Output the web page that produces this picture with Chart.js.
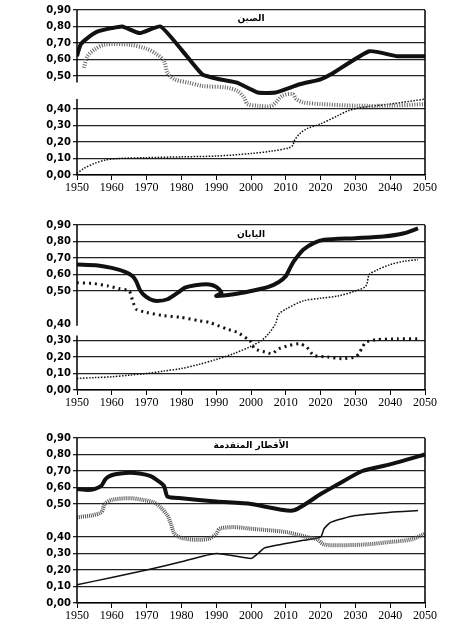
<!DOCTYPE html>
<html>
<head>
<meta charset="utf-8">
<script src="https://cdn.jsdelivr.net/npm/chart.js@4"></script>
<style>
  body { margin: 0; background: #fff; }
  .panel { position: absolute; left: 0; }
</style>
</head>
<body>
<canvas id="china" class="panel" width="457" height="200" style="top:0px"></canvas>
<canvas id="japan" class="panel" width="457" height="200" style="top:215px"></canvas>
<canvas id="developed" class="panel" width="457" height="200" style="top:428px"></canvas>
<script>
const chinaTotalYears = [1950, 1951, 1953, 1956, 1960, 1963, 1968, 1974, 1980, 1986, 1991, 1996, 2002, 2007, 2014, 2020, 2023, 2034, 2042, 2050];
const chinaTotal      = [0.62, 0.69, 0.73, 0.77, 0.79, 0.80, 0.76, 0.80, 0.66, 0.51, 0.49, 0.48, 0.45, 0.45, 0.475, 0.49, 0.51, 0.65, 0.62, 0.62];
const chinaYoungYears = [1952, 1953, 1955, 1958, 1965, 1970, 1973, 1975, 1976, 1978, 1982, 1986, 1993, 1996, 1998, 1999, 2002, 2006, 2009, 2012, 2013, 2015, 2020, 2030, 2040, 2050];
const chinaYoung      = [0.55, 0.62, 0.66, 0.69, 0.69, 0.665, 0.63, 0.59, 0.52, 0.49, 0.48, 0.47, 0.465, 0.455, 0.435, 0.415, 0.41, 0.41, 0.44, 0.445, 0.43, 0.42, 0.415, 0.41, 0.41, 0.415];
const chinaOldYears   = [1950, 1952, 1955, 1958, 1962, 1970, 1980, 1990, 2000, 2006, 2011, 2012, 2012.5, 2014, 2016, 2020, 2025, 2028, 2032, 2040, 2050];
const chinaOld        = [0.01, 0.04, 0.07, 0.09, 0.10, 0.105, 0.11, 0.115, 0.13, 0.145, 0.165, 0.18, 0.21, 0.25, 0.28, 0.31, 0.36, 0.39, 0.405, 0.415, 0.43];

const japanTotalYears = [1950, 1956, 1960, 1964, 1966, 1967, 1968, 1969, 1971, 1973, 1976, 1979, 1981, 1984, 1988, 1990, 1991.5, 1990, 1995, 2000, 2005, 2008, 2010, 2011, 2012, 2013, 2015, 2018, 2021, 2030, 2038, 2044, 2048];
const japanTotal      = [0.66, 0.655, 0.64, 0.615, 0.59, 0.56, 0.51, 0.49, 0.475, 0.47, 0.475, 0.495, 0.52, 0.535, 0.54, 0.525, 0.495, 0.485, 0.49, 0.50, 0.525, 0.555, 0.59, 0.63, 0.67, 0.70, 0.75, 0.79, 0.81, 0.82, 0.83, 0.85, 0.88];
const japanYoungYears = [1950, 1955, 1959, 1962, 1965, 1966, 1967, 1970, 1975, 1980, 1985, 1988, 1993, 1996, 1999, 2000, 2001, 2004, 2006, 2008, 2011, 2014, 2016, 2018, 2022, 2026, 2030, 2031, 2032, 2033, 2036, 2042, 2048];
const japanYoung      = [0.55, 0.545, 0.53, 0.515, 0.50, 0.47, 0.445, 0.435, 0.425, 0.42, 0.41, 0.405, 0.37, 0.35, 0.31, 0.29, 0.25, 0.23, 0.22, 0.25, 0.27, 0.28, 0.26, 0.21, 0.20, 0.19, 0.20, 0.22, 0.26, 0.29, 0.305, 0.31, 0.31];
const japanOldYears   = [1950, 1955, 1960, 1965, 1970, 1975, 1980, 1985, 1990, 1995, 2000, 2003, 2005, 2007, 2008, 2010, 2015, 2020, 2025, 2030, 2033, 2034, 2036, 2040, 2044, 2048];
const japanOld        = [0.07, 0.075, 0.08, 0.09, 0.10, 0.115, 0.13, 0.155, 0.185, 0.22, 0.265, 0.30, 0.34, 0.40, 0.43, 0.445, 0.47, 0.478, 0.485, 0.50, 0.53, 0.60, 0.625, 0.66, 0.68, 0.69];

const devTotalYears   = [1950, 1953, 1955, 1957, 1958, 1959, 1961, 1965, 1968, 1971, 1973, 1975, 1976, 1980, 1990, 2000, 2012, 2020, 2025, 2032, 2040, 2050];
const devTotal        = [0.59, 0.585, 0.59, 0.61, 0.645, 0.665, 0.68, 0.69, 0.685, 0.67, 0.645, 0.61, 0.545, 0.535, 0.515, 0.50, 0.48, 0.56, 0.62, 0.70, 0.74, 0.80];
const devYoungYears   = [1950, 1954, 1957, 1958, 1960, 1965, 1969, 1972, 1974, 1976, 1977, 1978, 1980, 1984, 1988, 1990, 1991, 1995, 2000, 2010, 2016, 2019, 2021, 2025, 2033, 2040, 2046, 2050];
const devYoung        = [0.46, 0.465, 0.475, 0.50, 0.525, 0.535, 0.525, 0.51, 0.49, 0.465, 0.44, 0.41, 0.395, 0.383, 0.39, 0.41, 0.425, 0.43, 0.425, 0.415, 0.40, 0.385, 0.355, 0.35, 0.355, 0.37, 0.385, 0.41];
const devOldYears     = [1950, 1960, 1970, 1980, 1990, 2000, 2002, 2004, 2010, 2015, 2020, 2021, 2023, 2030, 2040, 2048];
const devOld          = [0.11, 0.155, 0.20, 0.25, 0.30, 0.27, 0.30, 0.335, 0.36, 0.38, 0.40, 0.425, 0.445, 0.465, 0.475, 0.48];

const yearTicks = [1950, 1960, 1970, 1980, 1990, 2000, 2010, 2020, 2030, 2040, 2050];

// broken axis: 0..0.40 as is, 0.40..0.50 stretched over two steps, 0.50..0.90 shifted up one step
function toDisplay(v) {
  if (v <= 0.4) return v;
  if (v >= 0.5) return v + 0.1;
  return 0.4 + (v - 0.4) * 2;
}

function pts(years, vals) {
  return years.map((x, i) => ({ x: x, y: toDisplay(vals[i]) }));
}

const framePlugin = {
  id: "frame",
  afterDraw(chart, args, opts) {
    const { ctx, chartArea } = chart;
    const y = chart.scales.y;
    ctx.save();
    ctx.strokeStyle = "#000";
    ctx.lineWidth = 1.5;
    // left axis with gap
    ctx.beginPath();
    if (opts.gap) {
      ctx.moveTo(chartArea.left, chartArea.top);
      ctx.lineTo(chartArea.left, y.getPixelForValue(opts.gap[1]));
      ctx.moveTo(chartArea.left, y.getPixelForValue(opts.gap[0]));
      ctx.lineTo(chartArea.left, chartArea.bottom);
    } else {
      ctx.moveTo(chartArea.left, chartArea.top);
      ctx.lineTo(chartArea.left, chartArea.bottom);
    }
    // right border
    ctx.moveTo(chartArea.right, chartArea.top);
    ctx.lineTo(chartArea.right, chartArea.bottom);
    ctx.stroke();

    // title inside plot
    ctx.font = "bold 9px 'DejaVu Sans'";
    ctx.textAlign = "center";
    ctx.textBaseline = "middle";
    const tx = 251;
    const ty = chartArea.top + opts.titleOffset;
    const w = ctx.measureText(opts.title).width;
    ctx.fillStyle = "#fff";
    ctx.fillRect(tx - w / 2 - 3, ty - 6, w + 6, 12);
    ctx.fillStyle = "#000";
    ctx.fillText(opts.title, tx, ty);
    ctx.restore();
  }
};

function makeChart(id, title, titleOffset, gap, hideGrid, datasets) {
  return new Chart(document.getElementById(id), {
    type: "line",
    data: { datasets: datasets },
    options: {
      responsive: false,
      animation: false,
      layout: { padding: { top: 10, right: 32, bottom: 0, left: 0 } },
      plugins: {
        legend: { display: false },
        tooltip: { enabled: false },
        frame: { title: title, titleOffset: titleOffset, gap: gap }
      },
      elements: { point: { radius: 0 } },
      scales: {
        x: {
          type: "linear",
          min: 1950,
          max: 2050,
          afterBuildTicks: s => { s.ticks = yearTicks.map(v => ({ value: v })); },
          afterFit: s => { s.height = 25; },
          ticks: {
            color: "#000",
            padding: 1,
            maxRotation: 0,
            font: { family: "'Liberation Serif'", size: 12 },
            callback: v => String(v)
          },
          grid: { drawOnChartArea: false, drawTicks: true, tickLength: 5, color: "#000" },
          border: { color: "#000", width: 1.5 }
        },
        y: {
          min: 0,
          max: 1.0,
          afterFit: s => { s.width = 77; },
          ticks: {
            stepSize: 0.1,
            color: "#000",
            padding: 2,
            font: { family: "'DejaVu Sans'", size: 10, weight: "bold" },
            callback: v => {
              const d = Math.round(v * 10);
              if (d === 5) return "";
              const real = d < 5 ? d / 10 : (d - 1) / 10;
              return real.toFixed(2).replace(".", ",");
            }
          },
          grid: {
            tickLength: 4,
            lineWidth: 1.3,
            color: c => {
              const d = Math.round(c.tick.value * 10);
              if (d === 5 || hideGrid.includes(d)) return "rgba(0,0,0,0)";
              return "#222";
            }
          },
          border: { display: false }
        }
      }
    },
    plugins: [framePlugin]
  });
}

const thick = { borderColor: "#111", borderWidth: 4, tension: 0.25, fill: false };

makeChart("china", "الصين", 9, [0.46, 0.56], [], [
  Object.assign({}, thick, { label: "total", data: pts(chinaTotalYears, chinaTotal), tension: 0.15 }),
  { label: "young", data: pts(chinaYoungYears, chinaYoung), borderColor: "#666", borderWidth: 4, borderDash: [1, 1.5], tension: 0.3 },
  { label: "old", data: pts(chinaOldYears, chinaOld), borderColor: "#111", borderWidth: 1.5, borderDash: [1.5, 1.5], tension: 0.3 }
]);

makeChart("japan", "اليابان", 10, [0.33, 0.39], [4], [
  Object.assign({}, thick, { label: "total", data: pts(japanTotalYears, japanTotal) }),
  { label: "young", data: pts(japanYoungYears, japanYoung), borderColor: "#111", borderWidth: 3, borderDash: [2, 4], tension: 0.2 },
  { label: "old", data: pts(japanOldYears, japanOld), borderColor: "#111", borderWidth: 1.5, borderDash: [1.5, 1.5], tension: 0.3 }
]);

makeChart("developed", "الأقطار المتقدمة", 8, null, [], [
  Object.assign({}, thick, { label: "total", data: pts(devTotalYears, devTotal), tension: 0.2 }),
  { label: "young", data: pts(devYoungYears, devYoung), borderColor: "#555", borderWidth: 4, borderDash: [1, 1], tension: 0.3 },
  { label: "old", data: pts(devOldYears, devOld), borderColor: "#111", borderWidth: 1.5, tension: 0.2 }
]);
</script>
</body>
</html>
